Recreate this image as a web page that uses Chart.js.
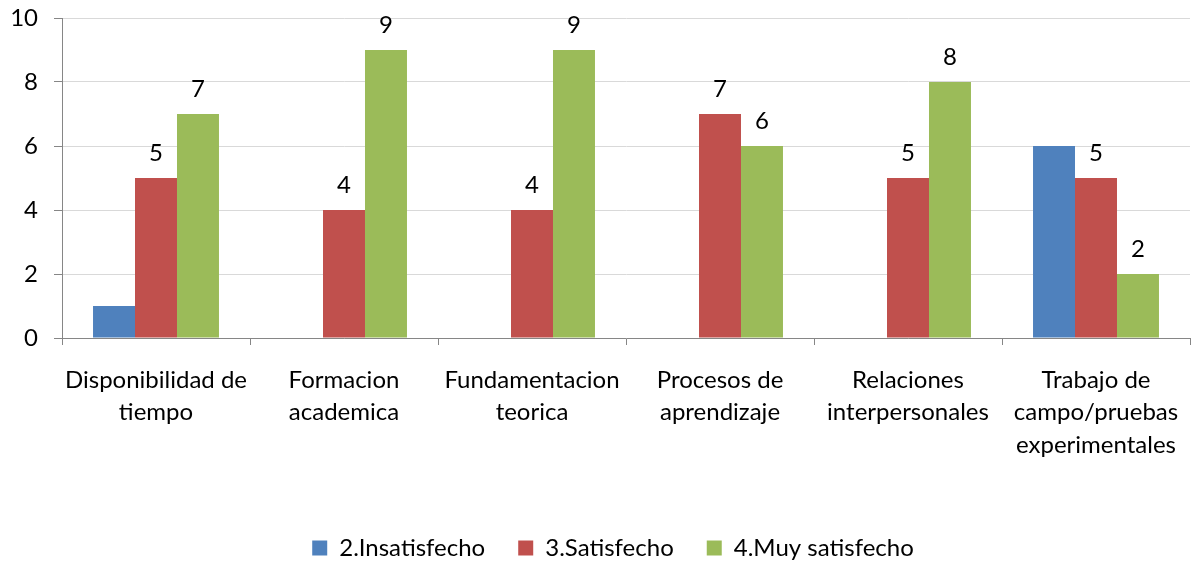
<!DOCTYPE html>
<html>
<head>
<meta charset="utf-8">
<script src="https://cdn.jsdelivr.net/npm/chart.js@4"></script>
<style>
html,body{margin:0;padding:0;background:#fff;}
#wrap{width:1195px;height:565px;}
</style>
</head>
<body>
<div id="wrap"><canvas id="c" width="1195" height="565"></canvas></div>
<script>
const categories = [
  ["Disponibilidad de","tiempo"],
  ["Formacion","academica"],
  ["Fundamentacion","teorica"],
  ["Procesos de","aprendizaje"],
  ["Relaciones","interpersonales"],
  ["Trabajo de","campo/pruebas","experimentales"]
];
const seriesNames = ["2.Insatisfecho","3.Satisfecho","4.Muy satisfecho"];
const insatisfecho = [1,0,0,0,0,6];
const satisfecho = [5,4,4,7,5,5];
const muySatisfecho = [7,9,9,6,8,2];
const yTicks = [0,2,4,6,8,10];
const colors = ["#4f81bd","#c0504d","#9bbb59"];
const labeled = [false,true,true];

const FONT = "Lato, 'Open Sans', sans-serif";
const FS = 24;

const valueLabels = {
  id:'valueLabels',
  afterDatasetsDraw(chart){
    const ctx = chart.ctx;
    ctx.save();
    ctx.font = FS + "px " + FONT;
    ctx.fillStyle = "#000";
    ctx.textAlign = "center";
    ctx.textBaseline = "alphabetic";
    chart.data.datasets.forEach((ds,i)=>{
      if(!labeled[i]) return;
      const meta = chart.getDatasetMeta(i);
      meta.data.forEach((el,j)=>{
        const v = ds.data[j];
        if(!v) return;
        ctx.fillText(String(v), el.x, el.y - 17);
      });
    });
    ctx.restore();
  }
};

const legendShift = {
  id:'legendShift',
  afterLayout(chart){
    if(chart.legend){ chart.legend.left += 36; }
  }
};

new Chart(document.getElementById('c'),{
  type:'bar',
  data:{
    labels:categories,
    datasets:[
      {label:seriesNames[0],data:insatisfecho,backgroundColor:colors[0]},
      {label:seriesNames[1],data:satisfecho,backgroundColor:colors[1]},
      {label:seriesNames[2],data:muySatisfecho,backgroundColor:colors[2]}
    ]
  },
  options:{
    responsive:false,
    animation:false,
    layout:{padding:{top:18,right:5,bottom:-5,left:0}},
    datasets:{bar:{categoryPercentage:0.67,barPercentage:1.0}},
    plugins:{
      legend:{
        position:'bottom',
        labels:{font:{family:FONT,size:FS},color:'#000',boxWidth:15,boxHeight:15,padding:33}
      },
      tooltip:{enabled:false}
    },
    scales:{
      x:{
        grid:{display:true,drawOnChartArea:false,tickLength:7,tickColor:'#868686',offset:true},
        border:{color:'#868686',width:1},
        ticks:{font:{family:FONT,size:FS,lineHeight:1.35},color:'#000',padding:19,maxRotation:0,autoSkip:false},
        afterFit(s){ s.height = 165; s.paddingLeft = 0; s.paddingRight = 0; }
      },
      y:{
        min:0,max:10,
        afterBuildTicks(s){ s.ticks = yTicks.map(v=>({value:v})); },
        grid:{color:'#d9d9d9',tickLength:8,tickColor:'#868686'},
        border:{color:'#868686',width:1},
        ticks:{font:{family:FONT,size:FS},color:'#000',padding:16},
        afterFit(s){ s.width = 62; s.paddingTop = 0; s.paddingBottom = 0; }
      }
    }
  },
  plugins:[valueLabels, legendShift]
});
</script>
</body>
</html>
